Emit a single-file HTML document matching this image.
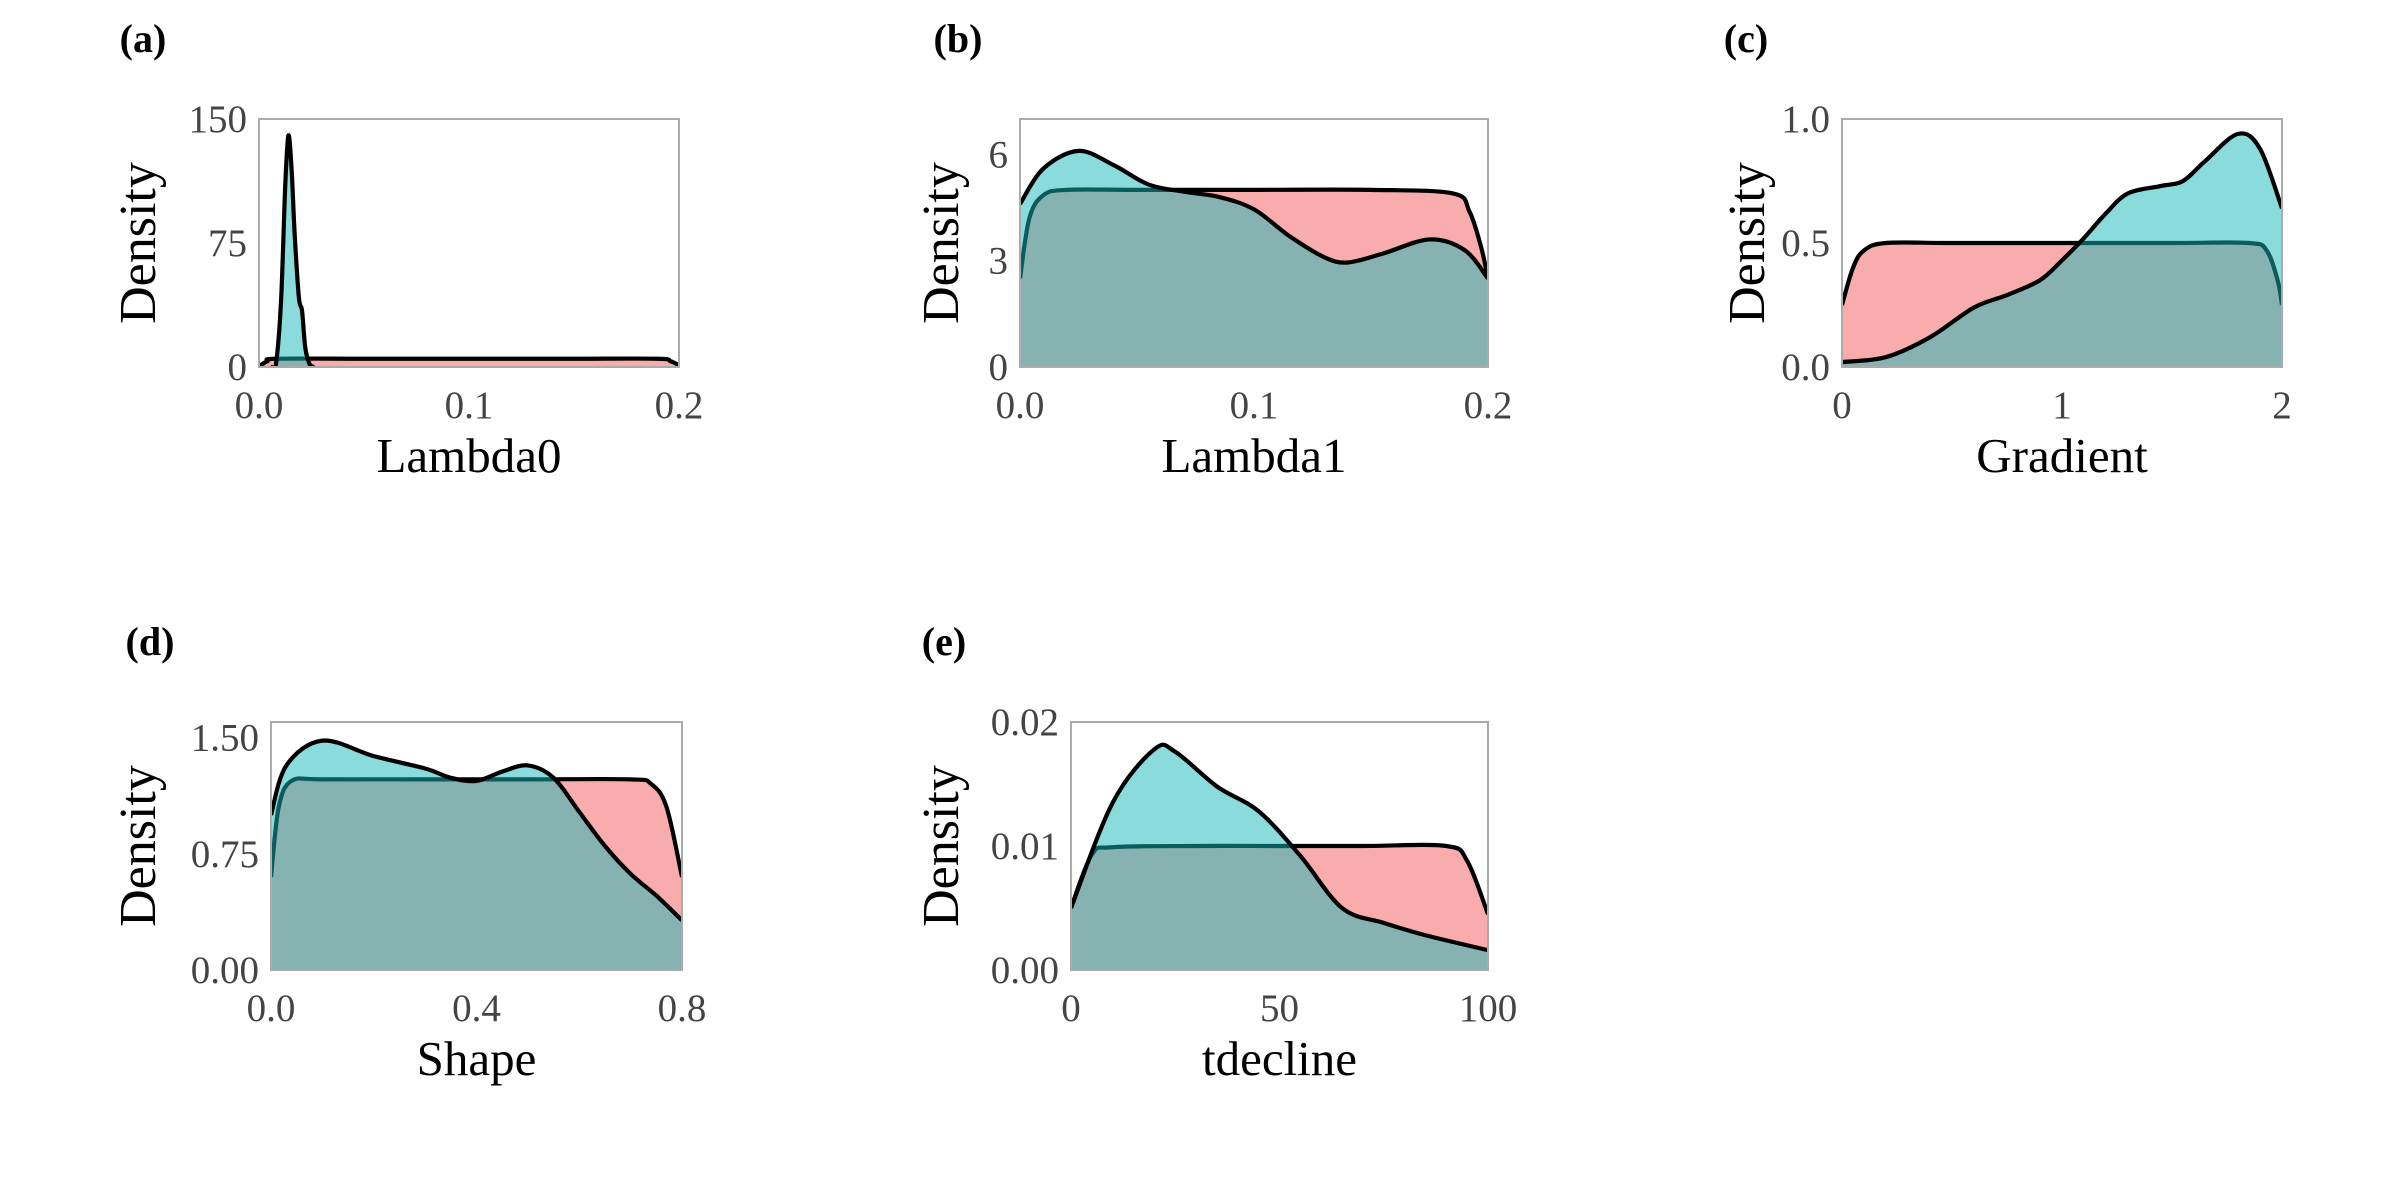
<!DOCTYPE html>
<html><head><meta charset="utf-8"><style>
html,body{margin:0;padding:0;background:#fff;}
svg{display:block;}
text{font-family:"Liberation Serif",serif;}
</style></head><body>
<svg id="chart" width="2400" height="1200" viewBox="0 0 2400 1200"></svg>
<script>
// ---- data ----
const aRedX=[0,0.004,0.008,0.05,0.1,0.15,0.19,0.196,0.2];
const aRedY=[0.5,3.5,5,5,5,5,5,3.5,1];
const aCyanX=[0.006,0.008,0.0105,0.0125,0.014,0.0155,0.017,0.019,0.0205,0.022,0.024,0.026];
const aCyanY=[0,1,40,110,140,120,80,42,34,12,2,0];
const bRedX=[0,0.004,0.01,0.02,0.05,0.1,0.15,0.185,0.192,0.197,0.2];
const bRedY=[2.5,4.2,4.85,5.0,5.0,5.0,5.0,4.9,4.4,3.4,2.5];
const bCyanX=[0,0.01,0.025,0.04,0.055,0.07,0.085,0.1,0.115,0.13,0.14,0.155,0.175,0.19,0.2];
const bCyanY=[4.6,5.6,6.1,5.7,5.15,4.95,4.8,4.45,3.7,3.1,2.95,3.2,3.6,3.3,2.5];
const cRedX=[0,0.05,0.1,0.2,0.5,1,1.5,1.85,1.93,1.98,2];
const cRedY=[0.25,0.40,0.47,0.50,0.50,0.50,0.50,0.50,0.47,0.35,0.25];
const cCyanX=[0,0.2,0.4,0.6,0.75,0.9,1.0,1.1,1.2,1.3,1.45,1.55,1.65,1.8,1.9,2.0];
const cCyanY=[0.02,0.04,0.12,0.24,0.29,0.35,0.43,0.52,0.62,0.70,0.73,0.75,0.83,0.94,0.88,0.64];
const dRedX=[0,0.015,0.04,0.1,0.3,0.5,0.7,0.74,0.77,0.8];
const dRedY=[0.6,1.05,1.22,1.23,1.23,1.23,1.23,1.2,1.05,0.6];
const dCyanX=[0,0.03,0.1,0.2,0.3,0.35,0.4,0.45,0.5,0.55,0.6,0.65,0.7,0.75,0.8];
const dCyanY=[1.0,1.32,1.48,1.38,1.3,1.24,1.22,1.28,1.32,1.24,1.02,0.8,0.62,0.48,0.32];
const eRedX=[0,5,10,30,50,70,90,95,100];
const eRedY=[0.005,0.0093,0.0099,0.0100,0.0100,0.0100,0.0100,0.0088,0.0045];
const eCyanX=[0,10,20,25,35,45,55,65,75,85,100];
const eCyanY=[0.005,0.0135,0.0178,0.0176,0.0148,0.0128,0.0092,0.005,0.0038,0.0028,0.0016];
const aTicksX=["0.0","0.1","0.2"], aTicksY=["0","75","150"];
const bTicksX=["0.0","0.1","0.2"], bTicksY=["0","3","6"];
const cTicksX=["0","1","2"], cTicksY=["0.0","0.5","1.0"];
const dTicksX=["0.0","0.4","0.8"], dTicksY=["0.00","0.75","1.50"];
const eTicksX=["0","50","100"], eTicksY=["0.00","0.01","0.02"];

const NS="http://www.w3.org/2000/svg";
const svg=document.getElementById('chart');
function mk(tag,attrs,parent){const e=document.createElementNS(NS,tag);for(const k in attrs)e.setAttribute(k,attrs[k]);(parent||svg).appendChild(e);return e;}
function smooth(pts){
  let d="M"+pts[0][0]+","+pts[0][1];
  for(let i=0;i<pts.length-1;i++){
    const p0=pts[Math.max(i-1,0)],p1=pts[i],p2=pts[i+1],p3=pts[Math.min(i+2,pts.length-1)];
    const c1=[p1[0]+(p2[0]-p0[0])/6,p1[1]+(p2[1]-p0[1])/6];
    const c2=[p2[0]-(p3[0]-p1[0])/6,p2[1]-(p3[1]-p1[1])/6];
    d+=" C"+c1[0]+","+c1[1]+" "+c2[0]+","+c2[1]+" "+p2[0]+","+p2[1];
  }
  return d;
}
function panel(o){
  const g=mk('g',{});
  
  
  const sx=v=>o.L+(v-o.xmin)/(o.xmax-o.xmin)*(o.R-o.L);
  const sy=v=>o.B-(v-0)/(o.ymax)*(o.B-o.T);
  const clip=mk('clipPath',{id:'clip'+o.id},g);
  mk('rect',{x:o.L,y:o.T,width:o.R-o.L,height:o.B-o.T},clip);
  const series=[[o.rx,o.ry,'#F15959','red'],[o.cx,o.cy,'#15B7B7','cyan']];
  series.forEach(s=>{
    const pts=s[0].map((x,i)=>[sx(x),sy(s[1][i])]);
    const line=smooth(pts);
    const area=mk('path',{d:line+" L"+pts[pts.length-1][0]+","+o.B+" L"+pts[0][0]+","+o.B+" Z",fill:s[2],'fill-opacity':0.5,'clip-path':'url(#clip'+o.id+')'},g);
    
    
    const ln=mk('path',{d:line,fill:'none',stroke:'#000','stroke-width':4.2,'clip-path':'url(#clip'+o.id+')'},g);
    
    
  });
  const fr=mk('rect',{x:o.L,y:o.T,width:o.R-o.L,height:o.B-o.T,fill:'none',stroke:'#aaa','stroke-width':2},g);
  
  
  o.tx.forEach((t,i)=>{
    const v=o.xmin+i*(o.xmax-o.xmin)/(o.tx.length-1);
    const e=mk('text',{x:sx(v),y:o.B+51,'text-anchor':'middle','font-size':39,fill:'#444'},g);
    e.textContent=t;
    
    
  });
  o.ty.forEach((t,i)=>{
    const v=parseFloat(t);
    const e=mk('text',{x:o.L-12,y:sy(v)+13,'text-anchor':'end','font-size':39,fill:'#444'},g);
    e.textContent=t;
    
    
  });
  const xl=mk('text',{x:(o.L+o.R)/2,y:o.B+105,'text-anchor':'middle','font-size':49,fill:'#000'},g);
  xl.textContent=o.xlabel;
  
  
  const cy=(o.T+o.B)/2;
  const yl=mk('text',{x:o.yx,y:cy,'text-anchor':'middle','font-size':52,fill:'#000',transform:'rotate(-90 '+o.yx+' '+cy+')'},g);
  yl.textContent='Density';
  
  
  const pl=mk('text',{x:o.px,y:o.py,'text-anchor':'middle','font-size':40,'font-weight':'bold',fill:'#000'},g);
  pl.textContent='('+o.id+')';
  
  
}
panel({id:'a',L:259,R:679,T:119,B:367,xmin:0,xmax:0.2,ymax:150,rx:aRedX,ry:aRedY,cx:aCyanX,cy:aCyanY,tx:aTicksX,ty:aTicksY,xlabel:'Lambda0',yx:155,px:143,py:52});
panel({id:'b',L:1020,R:1488,T:119,B:367,xmin:0,xmax:0.2,ymax:7,rx:bRedX,ry:bRedY,cx:bCyanX,cy:bCyanY,tx:bTicksX,ty:bTicksY,xlabel:'Lambda1',yx:958,px:958,py:52});
panel({id:'c',L:1842,R:2282,T:119,B:367,xmin:0,xmax:2,ymax:1,rx:cRedX,ry:cRedY,cx:cCyanX,cy:cCyanY,tx:cTicksX,ty:cTicksY,xlabel:'Gradient',yx:1764,px:1746,py:52});
panel({id:'d',L:271,R:682,T:722,B:970,xmin:0,xmax:0.8,ymax:1.6,rx:dRedX,ry:dRedY,cx:dCyanX,cy:dCyanY,tx:dTicksX,ty:dTicksY,xlabel:'Shape',yx:155,px:150,py:655});
panel({id:'e',L:1071,R:1488,T:722,B:970,xmin:0,xmax:100,ymax:0.02,rx:eRedX,ry:eRedY,cx:eCyanX,cy:eCyanY,tx:eTicksX,ty:eTicksY,xlabel:'tdecline',yx:958,px:944,py:655});
</script>
</body></html>
